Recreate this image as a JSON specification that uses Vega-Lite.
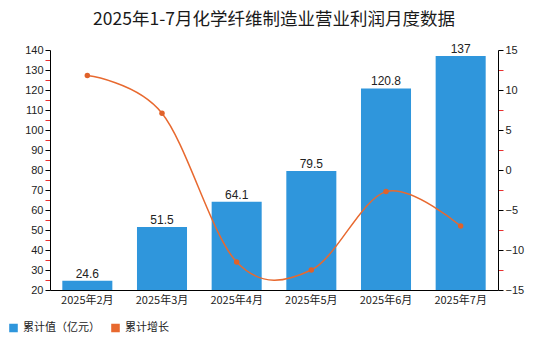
{
  "$schema": "https://vega.github.io/schema/vega-lite/v6.json",
  "autosize": {"type": "none"},
  "width": 448,
  "height": 240,
  "padding": {"left": 50, "top": 50, "right": 52, "bottom": 60},
  "background": "white",
  "title": {
    "text": "2025年1-7月化学纤维制造业营业利润月度数据",
    "font": "Noto Sans CJK SC",
    "fontSize": 17.5,
    "fontWeight": "normal",
    "color": "#1a1a1a",
    "anchor": "middle",
    "offset": 15
  },
  "config": {
    "view": {"stroke": null},
    "axis": {"labelFont": "Liberation Sans", "labelFontSize": 11, "labelColor": "#222222", "grid": false, "domainColor": "#000000", "tickColor": "#000000"}
  },
  "data": {
    "values": [
      {"month": "2025年2月", "value": 24.6, "growth": 11.8},
      {"month": "2025年3月", "value": 51.5, "growth": 7.1},
      {"month": "2025年4月", "value": 64.1, "growth": -11.5},
      {"month": "2025年5月", "value": 79.5, "growth": -12.5},
      {"month": "2025年6月", "value": 120.8, "growth": -2.7},
      {"month": "2025年7月", "value": 137, "growth": -7.0}
    ]
  },
  "encoding": {
    "x": {
      "field": "month",
      "type": "nominal",
      "sort": null,
      "scale": {"paddingInner": 0.33, "paddingOuter": 0.165},
      "axis": {"title": null, "labelAngle": 0, "ticks": false, "labelFont": "Noto Sans CJK SC", "labelFontSize": 11, "labelPadding": 4, "domainColor": "#000000"}
    }
  },
  "layer": [
    {
      "encoding": {
        "y": {
          "field": "value",
          "type": "quantitative",
          "scale": {"domain": [20, 140], "zero": false, "nice": false},
          "axis": {
            "title": null,
            "orient": "left",
            "values": [20,25,30,35,40,45,50,55,60,65,70,75,80,85,90,95,100,105,110,115,120,125,130,135,140],
            "labelExpr": "datum.value % 10 == 0 ? datum.label : ''",
            "tickColor": {"condition": {"test": "datum.value % 10 != 0", "value": "#e83030"}, "value": "#000000"},
            "tickSize": 5
          }
        }
      },
      "layer": [
        {
          "mark": {"type": "bar"},
          "encoding": {
            "y2": {"datum": 20},
            "color": {
              "datum": "累计值（亿元）",
              "type": "nominal",
              "scale": {"domain": ["累计值（亿元）", "累计增长"], "range": ["#2f96dc", "#e8692f"]},
              "legend": {
                "title": null,
                "orient": "none",
                "legendX": -42,
                "legendY": 272,
                "direction": "horizontal",
                "symbolType": "square",
                "symbolSize": 50,
                "labelFont": "Noto Sans CJK SC",
                "labelFontSize": 11,
                "labelColor": "#222222",
                "columnPadding": 8
              }
            }
          }
        },
        {
          "mark": {"type": "text", "dy": -7, "font": "Liberation Sans", "fontSize": 12, "color": "#222222"},
          "encoding": {
            "text": {"field": "value", "type": "quantitative"}
          }
        }
      ]
    },
    {
      "encoding": {
        "y": {
          "field": "growth",
          "type": "quantitative",
          "scale": {"domain": [-15, 15], "zero": false, "nice": false},
          "axis": {
            "title": null,
            "orient": "right",
            "values": [-15,-12.5,-10,-7.5,-5,-2.5,0,2.5,5,7.5,10,12.5,15],
            "labelExpr": "datum.value % 5 == 0 ? datum.label : ''",
            "tickColor": {"condition": {"test": "datum.value % 5 != 0", "value": "#e83030"}, "value": "#000000"},
            "tickSize": 5
          }
        }
      },
      "layer": [
        {
          "mark": {"type": "line", "interpolate": "cardinal", "strokeWidth": 1.5, "color": "#ee7d45"},
          "encoding": {
            "color": {"datum": "累计增长", "type": "nominal"}
          }
        },
        {
          "mark": {"type": "point", "filled": true, "size": 30, "opacity": 1, "color": "#e0622a"}
        }
      ]
    }
  ],
  "resolve": {"scale": {"y": "independent", "color": "shared"}}
}
